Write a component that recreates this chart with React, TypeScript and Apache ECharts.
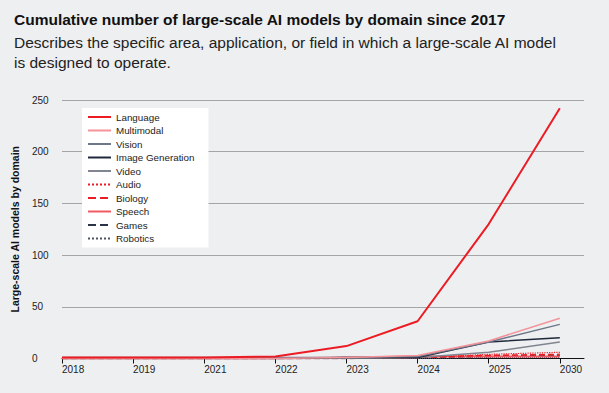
import React, { useEffect, useRef } from "react";
import * as echarts from "echarts";

const years = ["2018", "2019", "2021", "2022", "2023", "2024", "2025", "2030"];
const yTicks = [0, 50, 100, 150, 200, 250];

const language = [1, 1, 1, 2, 12, 36, 130, 242];
const multimodal = [0, 0, 0, 0, 1, 3, 17, 39];
const vision = [1, 1, 1, 1, 1, 2, 16, 33];
const imageGeneration = [0, 0, 0, 0, 1, 1, 16, 20];
const video = [0, 0, 0, 0, 0, 1, 6, 16];
const audio = [0, 0, 0, 0, 0, 1, 4, 6];
const biology = [0, 0, 0, 0, 0, 1, 3, 4];
const speech = [0, 0, 0, 0, 1, 2, 2, 2];
const games = [0, 0, 0, 0, 0, 1, 2, 3];
const robotics = [0, 0, 0, 0, 0, 0, 1, 1];

const seriesDefs = [
  { name: "Language", data: language, color: "#ec1c24", width: 2, type: "solid" },
  { name: "Multimodal", data: multimodal, color: "#f4939a", width: 1.5, type: "solid" },
  { name: "Vision", data: vision, color: "#6e7689", width: 1.5, type: "solid" },
  { name: "Image Generation", data: imageGeneration, color: "#1e283a", width: 1.5, type: "solid" },
  { name: "Video", data: video, color: "#80858f", width: 1.5, type: "solid" },
  { name: "Audio", data: audio, color: "#ec1c24", width: 1.2, type: "dotted" },
  { name: "Biology", data: biology, color: "#ec1c24", width: 1.5, type: "dashed" },
  { name: "Speech", data: speech, color: "#ef5a63", width: 2, type: "solid" },
  { name: "Games", data: games, color: "#2b3445", width: 1.5, type: "dashed" },
  { name: "Robotics", data: robotics, color: "#4a5263", width: 1, type: "dotted" },
];

const FONT = "Liberation Sans";

export default function App() {
  const ref = useRef<HTMLDivElement>(null);
  useEffect(() => {
    if (!ref.current) return;
    const chart = echarts.init(ref.current, null, { renderer: "svg" });
    const idx = years.map((_, i) => i);
    chart.setOption({
      animation: false,
      backgroundColor: "#eeeff1",
      textStyle: { fontFamily: FONT },
      title: [
        {
          text: "Cumulative number of large-scale AI models by domain since 2017",
          left: 9,
          top: 6,
          textStyle: { fontFamily: FONT, fontWeight: "bold", fontSize: 15.5, color: "#111" },
        },
        {
          text: "Describes the specific area, application, or field in which a large-scale AI model\nis designed to operate.",
          left: 9,
          top: 27,
          textStyle: { fontFamily: FONT, fontWeight: "normal", fontSize: 15.5, color: "#222", lineHeight: 20 },
        },
      ],
      legend: {
        orient: "vertical",
        left: 82,
        top: 108,
        backgroundColor: "#ffffff",
        padding: [3, 14, 3, 5],
        itemWidth: 23,
        itemHeight: 10,
        itemGap: 1.5,
        itemStyle: { color: "transparent", borderColor: "transparent", borderWidth: 0, opacity: 0 },
        textStyle: { fontFamily: FONT, fontSize: 9.8, color: "#222", lineHeight: 12 },
        data: seriesDefs.map((s) => s.name),
      },
      grid: { left: 62, right: 25, top: 100, bottom: 34.5 },
      xAxis: {
        type: "value",
        min: 0,
        max: 7.34,
        interval: 1,
        splitLine: { show: false },
        axisLine: { show: true, lineStyle: { color: "#111", width: 1 } },
        axisTick: { show: true, customValues: idx, length: 5, lineStyle: { color: "#111" } },
        axisLabel: {
          customValues: idx,
          align: "left",
          margin: 6,
          fontFamily: FONT,
          fontSize: 10,
          color: "#222",
          formatter: (v: number) => years[Math.round(v)] ?? "",
        },
      },
      yAxis: {
        type: "value",
        min: 0,
        max: 250,
        interval: 50,
        name: "Large-scale AI models by domain",
        nameLocation: "middle",
        nameGap: 42,
        nameTextStyle: { fontFamily: FONT, fontWeight: "bold", fontSize: 10.5, color: "#111" },
        axisLine: { show: false },
        axisTick: { show: false },
        splitLine: { show: true, lineStyle: { color: "#a5a5a5", width: 1.2 } },
        axisLabel: {
          align: "left",
          margin: 30,
          fontFamily: FONT,
          fontSize: 10,
          color: "#222",
          customValues: yTicks,
        },
      },
      series: seriesDefs
        .slice()
        .reverse()
        .map((s) => ({
          name: s.name,
          type: "line",
          showSymbol: false,
          symbol: "none",
          color: s.color,
          lineStyle: { color: s.color, width: s.width, type: s.type },
          data: s.data.map((v, i) => [i, v]),
        })),
    });
    return () => chart.dispose();
  }, []);
  return (
    <div
      ref={ref}
      style={{ position: "fixed", left: 0, top: 0, width: 609, height: 393 }}
    />
  );
}
